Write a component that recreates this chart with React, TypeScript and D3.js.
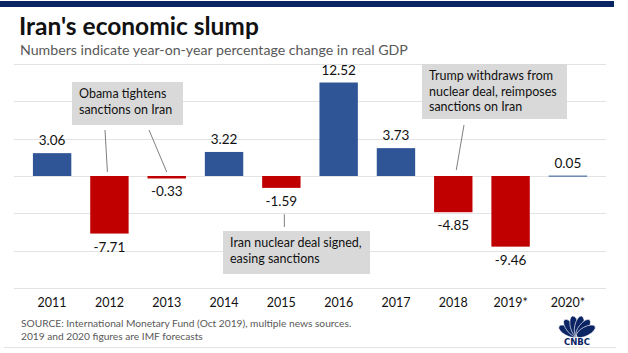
import { useEffect, useRef } from "react";
import * as d3 from "d3";

const years = ["2011", "2012", "2013", "2014", "2015", "2016", "2017", "2018", "2019*", "2020*"];
const gdpChange = [3.06, -7.71, -0.33, 3.22, -1.59, 12.52, 3.73, -4.85, -9.46, 0.05];
const gridTicks = [-15, -10, -5, 0, 5, 10, 15];

const title = "Iran's economic slump";
const subtitle = "Numbers indicate year-on-year percentage change in real GDP";
const sourceLines = [
    "SOURCE: International Monetary Fund (Oct 2019), multiple news sources.",
    "2019 and 2020 figures are IMF forecasts",
];

const FONT = "Lato, 'Open Sans', sans-serif";

const App = () => {
    const chartRef = useRef<SVGSVGElement | null>(null);

    useEffect(() => {
        const width = 628;
        const height = 353;
        const svg = d3.select(chartRef.current)
            .attr("width", width)
            .attr("height", height);
        svg.selectAll("*").remove();

        svg.append("rect")
            .attr("width", width)
            .attr("height", height)
            .attr("fill", "white");

        // top band
        svg.append("rect")
            .attr("x", 0)
            .attr("y", 1)
            .attr("width", 614)
            .attr("height", 6)
            .attr("fill", "#0b2463");

        svg.append("text")
            .attr("x", 19)
            .attr("y", 35)
            .style("font-family", FONT)
            .style("font-size", "24.5px")
            .style("font-weight", "bold")
            .style("fill", "#111")
            .text(title);

        svg.append("text")
            .attr("x", 20)
            .attr("y", 55)
            .style("font-family", FONT)
            .style("font-size", "14.2px")
            .style("fill", "#595959")
            .text(subtitle);

        const x = d3.scaleBand()
            .domain(years)
            .range([14, 606])
            .padding(0.33);

        const y = d3.scaleLinear()
            .domain([-15, 15])
            .range([288, 64]);

        const data = years.map((yr, i) => ({ year: yr, value: gdpChange[i] }));

        // grid
        svg.append("g")
            .selectAll("line")
            .data(gridTicks)
            .enter()
            .append("line")
            .attr("x1", 14)
            .attr("x2", 606)
            .attr("y1", d => Math.round(y(d)) + 0.5)
            .attr("y2", d => Math.round(y(d)) + 0.5)
            .attr("stroke", "#e3e3e3")
            .attr("stroke-width", 1);

        // bars
        svg.append("g")
            .selectAll("rect")
            .data(data)
            .enter()
            .append("rect")
            .attr("x", d => x(d.year)!)
            .attr("y", d => Math.min(y(d.value), y(0)))
            .attr("width", x.bandwidth())
            .attr("height", d => Math.max(Math.abs(y(d.value) - y(0)), 1))
            .attr("fill", d => (d.value >= 0 ? "#2f5597" : "#c00000"));

        // value labels
        svg.append("g")
            .selectAll("text")
            .data(data)
            .enter()
            .append("text")
            .attr("x", d => x(d.year)! + x.bandwidth() / 2)
            .attr("y", d => (d.value >= 0 ? y(d.value) - 8 : y(d.value) + 18))
            .attr("text-anchor", "middle")
            .style("font-family", FONT)
            .style("font-size", "13.5px")
            .style("fill", "#111")
            .text(d => d.value.toFixed(2));

        // year labels
        svg.append("g")
            .selectAll("text")
            .data(years)
            .enter()
            .append("text")
            .attr("x", d => x(d)! + x.bandwidth() / 2)
            .attr("y", 307)
            .attr("text-anchor", "middle")
            .style("font-family", FONT)
            .style("font-size", "12.5px")
            .style("fill", "#111")
            .text(d => d);

        // annotations
        const cx = (yr: string) => x(yr)! + x.bandwidth() / 2;
        const annotations = [
            { box: [72, 82, 111, 43], lines: ["Obama tightens", "sanctions on Iran"] },
            { box: [422, 64, 145, 55], lines: ["Trump withdraws from", "nuclear deal, reimposes", "sanctions on Iran"] },
            { box: [223, 231, 147, 43], lines: ["Iran nuclear deal signed,", "easing sanctions"] },
        ];
        const connectors = [
            { x1: 105, y1: 130, x2: cx("2012") - 2, y2: y(0) - 4 },
            { x1: 149, y1: 130, x2: cx("2013"), y2: y(0) - 4 },
            { x1: 464, y1: 125, x2: cx("2018") + 3, y2: y(0) - 6 },
            { x1: cx("2015") + 3, y1: y(-5) + 1, x2: cx("2015") + 3, y2: 227 },
        ];

        svg.append("g")
            .selectAll("line")
            .data(connectors)
            .enter()
            .append("line")
            .attr("x1", d => d.x1)
            .attr("y1", d => d.y1)
            .attr("x2", d => d.x2)
            .attr("y2", d => d.y2)
            .attr("stroke", "#7f7f7f")
            .attr("stroke-width", 1);

        annotations.forEach(a => {
            const g = svg.append("g");
            g.append("rect")
                .attr("x", a.box[0])
                .attr("y", a.box[1])
                .attr("width", a.box[2])
                .attr("height", a.box[3])
                .attr("fill", "#d9d9d9");
            a.lines.forEach((t, i) => {
                g.append("text")
                    .attr("x", a.box[0] + 7)
                    .attr("y", a.box[1] + 16 + i * 15.7)
                    .style("font-family", FONT)
                    .style("font-size", "12.5px")
                    .style("fill", "#111")
                    .text(t);
            });
        });

        // source
        sourceLines.forEach((t, i) => {
            svg.append("text")
                .attr("x", 21)
                .attr("y", 327 + i * 13)
                .style("font-family", FONT)
                .style("font-size", "10.2px")
                .style("fill", "#595959")
                .text(t);
        });

        // bottom rule
        svg.append("line")
            .attr("x1", 4)
            .attr("x2", 616)
            .attr("y1", 347.5)
            .attr("y2", 347.5)
            .attr("stroke", "#e3e3e3");

        // CNBC peacock
        const logo = svg.append("g").attr("transform", "translate(577, 336)");
        const angles = [-62, -38, -13, 13, 38, 62];
        logo.selectAll("ellipse")
            .data(angles)
            .enter()
            .append("ellipse")
            .attr("cx", 0)
            .attr("cy", -10)
            .attr("rx", 4.5)
            .attr("ry", 10.5)
            .attr("transform", d => `rotate(${d})`)
            .attr("fill", "#0b2463")
            .attr("stroke", "white")
            .attr("stroke-width", 0.6);
        logo.append("text")
            .attr("x", 0)
            .attr("y", 9)
            .attr("text-anchor", "middle")
            .style("font-family", "'DejaVu Sans', sans-serif")
            .style("font-size", "8.5px")
            .style("font-weight", "bold")
            .style("fill", "#0b2463")
            .text("CNBC");

        return () => {
            d3.select(chartRef.current).selectAll("*").remove();
        };
    }, []);

    return <svg ref={chartRef} style={{ position: "absolute", left: 0, top: 0 }}></svg>;
};

export default App;
